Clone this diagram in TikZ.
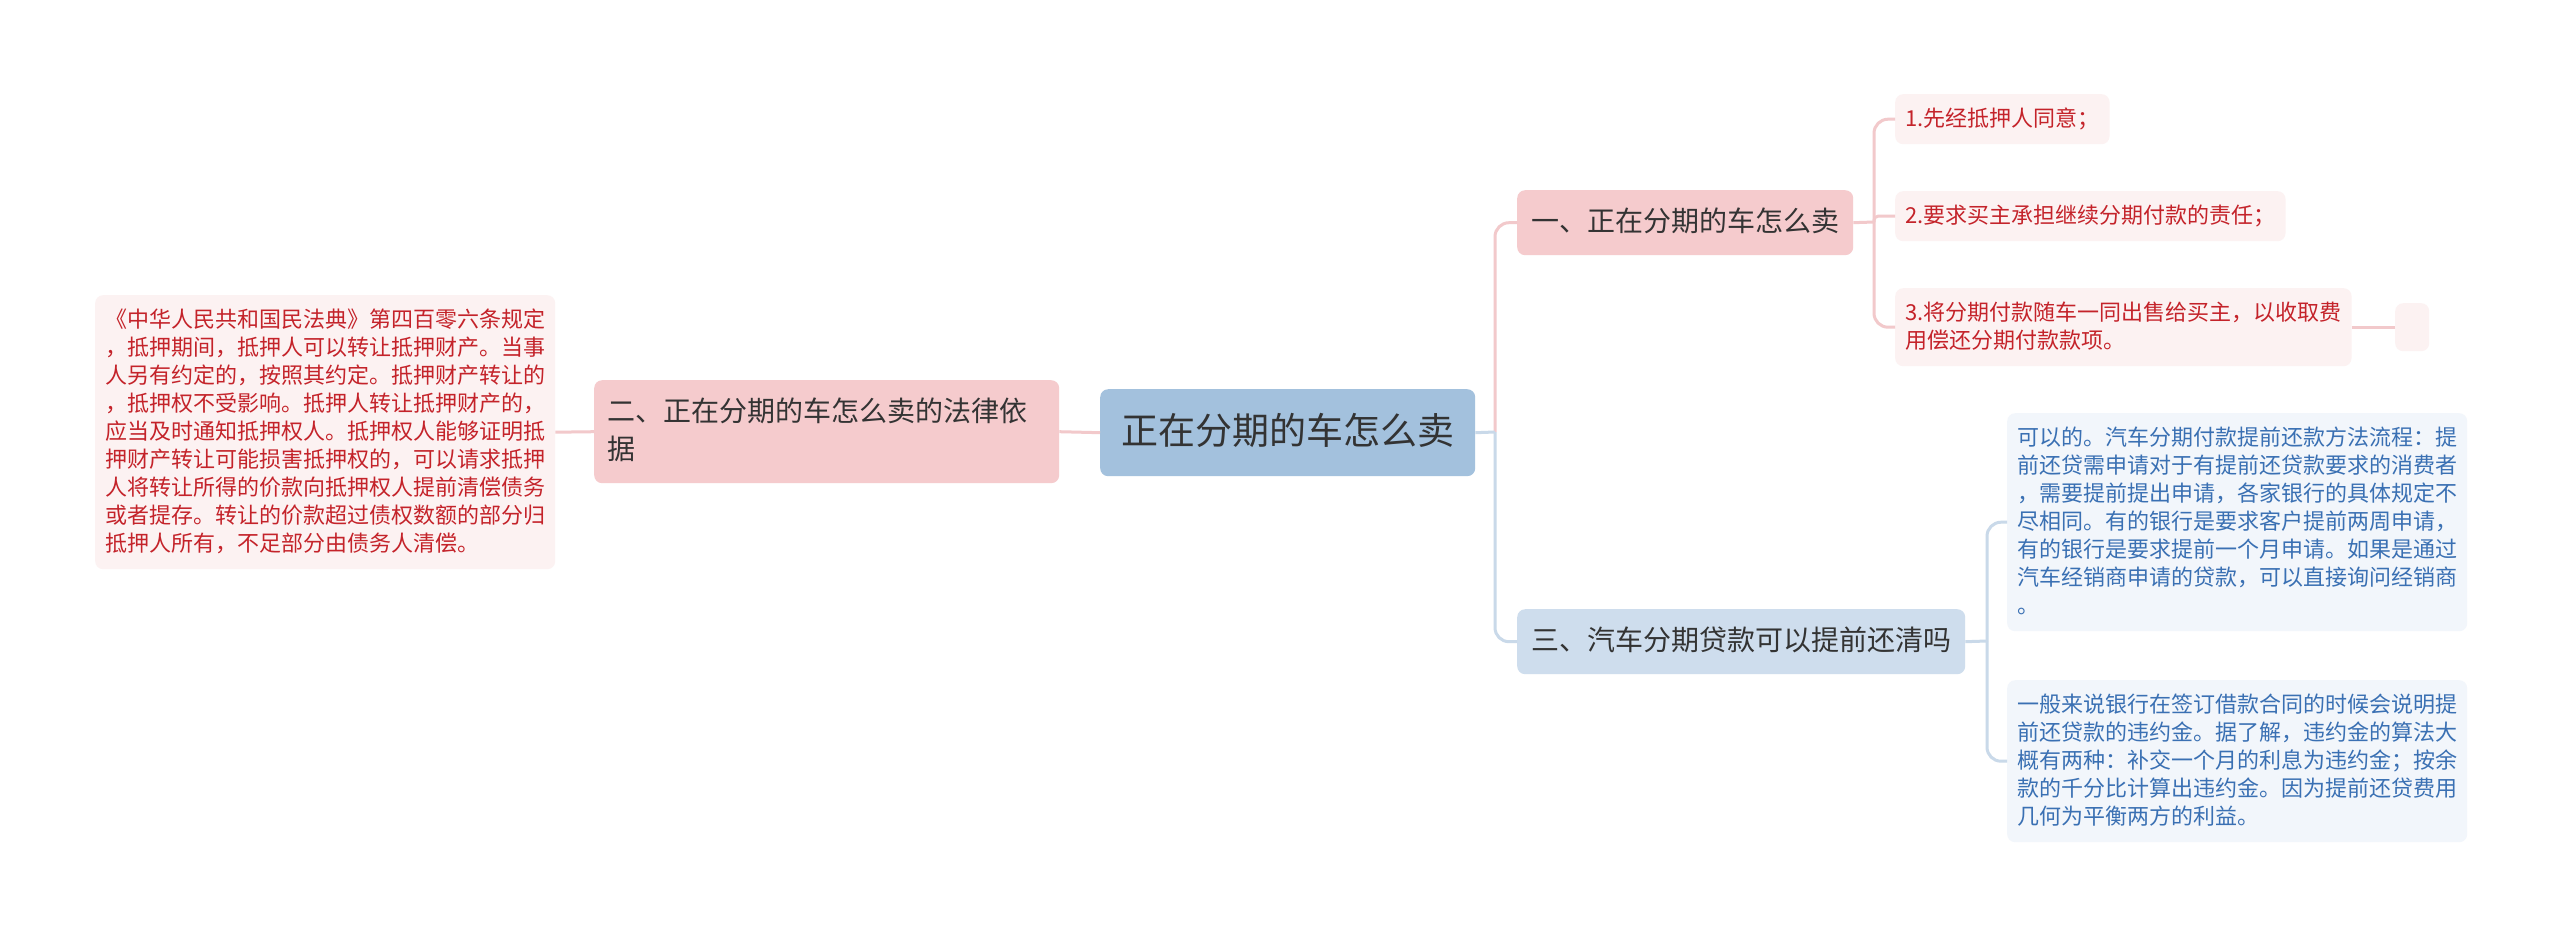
\documentclass[tikz,border=0pt]{standalone}
\usepackage{fontspec}
\setmainfont{Noto Sans CJK SC}
\definecolor{rootfill}{HTML}{A3C1DD}
\definecolor{pinkhead}{HTML}{F5CBCD}
\definecolor{bluehead}{HTML}{CEDDED}
\definecolor{pinkleaf}{HTML}{FCF2F2}
\definecolor{blueleaf}{HTML}{F2F6FB}
\definecolor{redtext}{HTML}{C4232A}
\definecolor{bluetext}{HTML}{3A70B3}
\definecolor{pinkline}{HTML}{F2C9CB}
\definecolor{blueline}{HTML}{C9D9E9}
\definecolor{headtext}{HTML}{333333}
\newcommand{\lstr}{\rule[-7pt]{0pt}{28pt}}
\newcommand{\hstr}{\rule[-10pt]{0pt}{38pt}}
\newcommand{\rstr}{\rule[-10pt]{0pt}{44pt}}
\tikzset{
  box/.style={rounded corners=8pt, anchor=north west, align=left},
  rootbox/.style={box, fill=rootfill, text=headtext, font=\fontsize{37}{44}\selectfont, inner xsep=21pt, inner ysep=21.5pt, align=center},
  headpink/.style={box, fill=pinkhead, text=headtext, font=\fontsize{28}{38}\selectfont, inner xsep=14pt, inner ysep=13.5pt},
  headblue/.style={box, fill=bluehead, text=headtext, font=\fontsize{28}{38}\selectfont, inner xsep=14pt, inner ysep=13.5pt},
  leafpink/.style={box, fill=pinkleaf, text=redtext, font=\fontsize{22}{28}\selectfont, inner xsep=10pt, inner ysep=11pt},
  leafblue/.style={box, fill=blueleaf, text=bluetext, font=\fontsize{22}{28}\selectfont, inner xsep=10pt, inner ysep=11pt},
  pinkconn/.style={draw=pinkline, line width=3pt, rounded corners=14pt},
  blueconn/.style={draw=blueline, line width=3pt, rounded corners=14pt},
}
\begin{document}
\begin{tikzpicture}[x=1pt,y=-1pt]
\useasboundingbox[fill=white] (0,0) rectangle (2560,935);

% nodes
\node[rootbox] (root) at (1100,389) {\rstr 正在分期的车怎么卖};

\node[headpink, text width=439pt, inner xsep=13pt] (n2) at (594,380) {\hstr 二、正在分期的车怎么卖的法律依\\据\hstr};

\node[leafpink] (lawleaf) at (95,295) {\lstr《中华人民共和国民法典》第四百零六条规定\\
，抵押期间，抵押人可以转让抵押财产。当事\\
人另有约定的，按照其约定。抵押财产转让的\\
，抵押权不受影响。抵押人转让抵押财产的，\\
应当及时通知抵押权人。抵押权人能够证明抵\\
押财产转让可能损害抵押权的，可以请求抵押\\
人将转让所得的价款向抵押权人提前清偿债务\\
或者提存。转让的价款超过债权数额的部分归\\
抵押人所有，不足部分由债务人清偿。\lstr};

\node[headpink] (n1) at (1517,190) {\hstr 一、正在分期的车怎么卖};
\node[leafpink] (l1) at (1895,94) {\lstr 1.先经抵押人同意；};
\node[leafpink] (l2) at (1895,191) {\lstr 2.要求买主承担继续分期付款的责任；};
\node[leafpink] (l3) at (1895,288) {\lstr 3.将分期付款随车一同出售给买主，以收取费\\用偿还分期付款款项。\lstr};
\node[box, fill=pinkleaf, minimum width=34pt, minimum height=48pt, inner sep=0pt] (empty) at (2395,303) {};

\node[headblue] (n3) at (1517,609) {\hstr 三、汽车分期贷款可以提前还清吗};
\node[leafblue] (b1) at (2007,413) {\lstr 可以的。汽车分期付款提前还款方法流程：提\\
前还贷需申请对于有提前还贷款要求的消费者\\
，需要提前提出申请，各家银行的具体规定不\\
尽相同。有的银行是要求客户提前两周申请，\\
有的银行是要求提前一个月申请。如果是通过\\
汽车经销商申请的贷款，可以直接询问经销商\\
。\lstr};
\node[leafblue] (b2) at (2007,680) {\lstr 一般来说银行在签订借款合同的时候会说明提\\
前还贷款的违约金。据了解，违约金的算法大\\
概有两种：补交一个月的利息为违约金；按余\\
款的千分比计算出违约金。因为提前还贷费用\\
几何为平衡两方的利益。\lstr};

% junction points
\coordinate (sp1) at (1495,432);
\coordinate (sp2) at (1874,222);
\coordinate (sp3) at (1987,641);

% connectors
\draw[pinkconn] (lawleaf.east) -- (n2.west);
\draw[pinkconn] (n2.east) -- (root.west);
\draw[pinkconn] (sp1) |- (n1.west);
\draw[blueconn] (sp1) |- (n3.west);
\draw[blueconn] (root.east) -- (sp1);

\draw[pinkconn] (n1.east) -- (sp2);
\draw[pinkconn] (sp2) |- (l1.west);
\draw[pinkconn, rounded corners=4pt] (sp2) |- (l2.west);
\draw[pinkconn] (sp2) |- (l3.west);
\draw[pinkconn] (l3.east) -- (empty.west);

\draw[blueconn] (n3.east) -- (sp3);
\draw[blueconn] (sp3) |- (b1.west);
\draw[blueconn] (sp3) |- (b2.west);
\end{tikzpicture}
\end{document}
